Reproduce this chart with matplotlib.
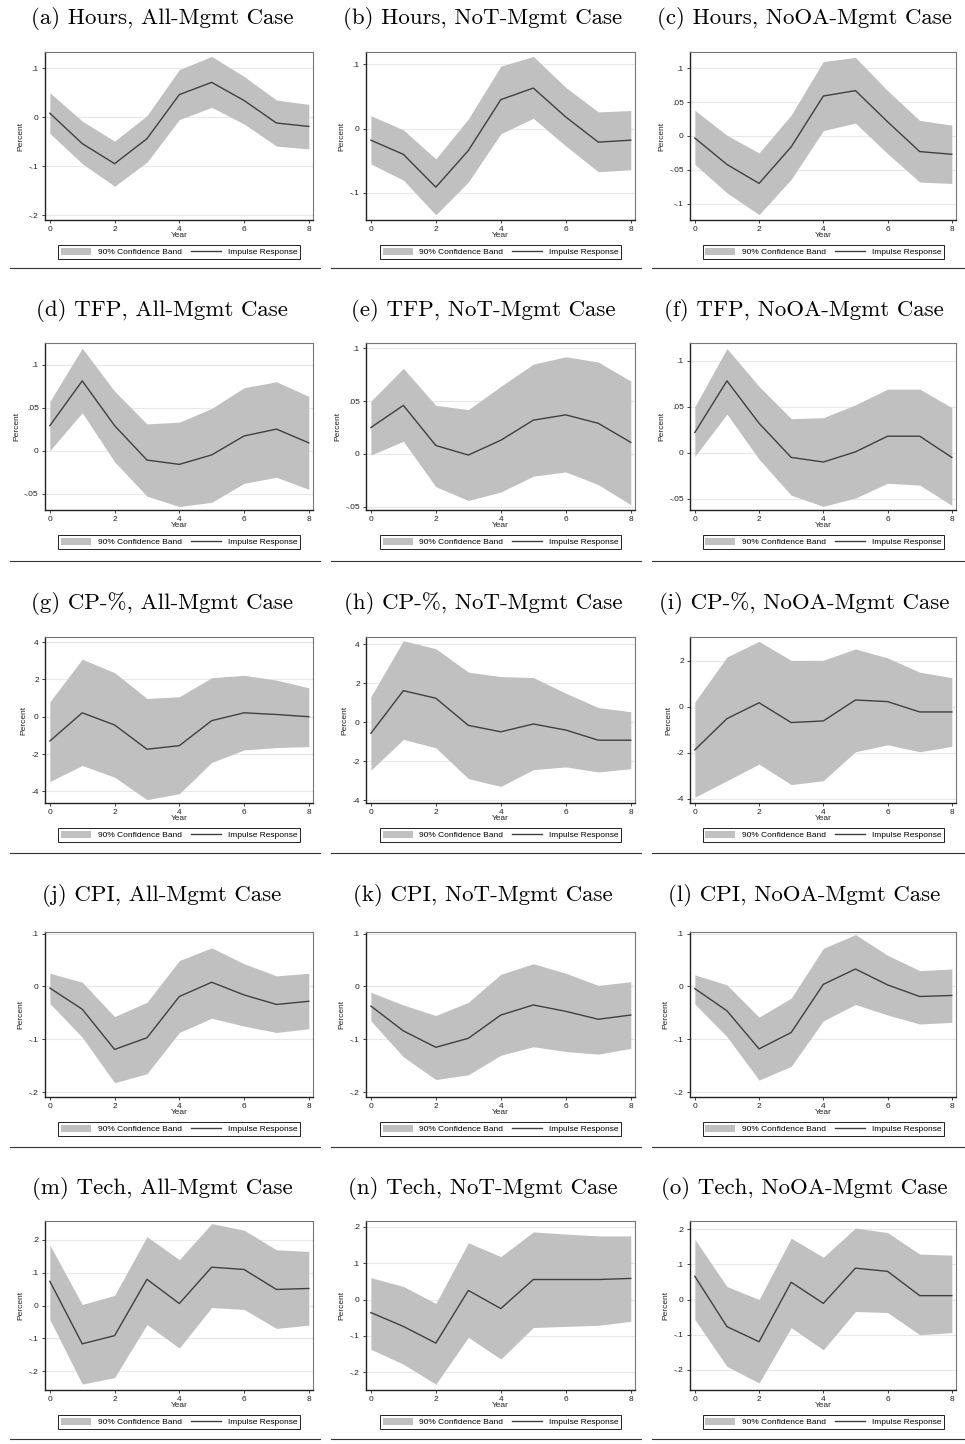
import matplotlib
matplotlib.use("Agg")
import matplotlib.pyplot as plt
from matplotlib.patches import Patch
from matplotlib.lines import Line2D

years = [0, 1, 2, 3, 4, 5, 6, 7, 8]

titles = ["(a) Hours, All-Mgmt Case", "(b) Hours, NoT-Mgmt Case", "(c) Hours, NoOA-Mgmt Case",
          "(d) TFP, All-Mgmt Case", "(e) TFP, NoT-Mgmt Case", "(f) TFP, NoOA-Mgmt Case",
          "(g) CP-%, All-Mgmt Case", "(h) CP-%, NoT-Mgmt Case", "(i) CP-%, NoOA-Mgmt Case",
          "(j) CPI, All-Mgmt Case", "(k) CPI, NoT-Mgmt Case", "(l) CPI, NoOA-Mgmt Case",
          "(m) Tech, All-Mgmt Case", "(n) Tech, NoT-Mgmt Case", "(o) Tech, NoOA-Mgmt Case"]

# Hours
a_irf = [0.008, -0.054, -0.095, -0.044, 0.046, 0.071, 0.034, -0.012, -0.019]
a_hi = [0.050, -0.008, -0.049, 0.003, 0.097, 0.124, 0.083, 0.035, 0.026]
a_lo = [-0.033, -0.095, -0.141, -0.092, -0.005, 0.020, -0.014, -0.059, -0.065]
b_irf = [-0.018, -0.040, -0.091, -0.034, 0.045, 0.063, 0.018, -0.021, -0.018]
b_hi = [0.020, -0.002, -0.047, 0.015, 0.097, 0.112, 0.064, 0.026, 0.028]
b_lo = [-0.055, -0.080, -0.134, -0.083, -0.008, 0.016, -0.027, -0.067, -0.064]
c_irf = [-0.003, -0.042, -0.070, -0.016, 0.059, 0.067, 0.021, -0.023, -0.027]
c_hi = [0.038, 0.001, -0.025, 0.031, 0.110, 0.116, 0.067, 0.023, 0.016]
c_lo = [-0.042, -0.084, -0.116, -0.064, 0.008, 0.019, -0.026, -0.068, -0.070]
# TFP
d_irf = [0.029, 0.081, 0.029, -0.011, -0.016, -0.005, 0.017, 0.025, 0.009]
d_hi = [0.057, 0.119, 0.069, 0.031, 0.033, 0.049, 0.073, 0.080, 0.063]
d_lo = [0.000, 0.044, -0.013, -0.053, -0.065, -0.060, -0.038, -0.031, -0.045]
e_irf = [0.025, 0.046, 0.008, -0.001, 0.013, 0.032, 0.037, 0.029, 0.011]
e_hi = [0.050, 0.081, 0.046, 0.042, 0.064, 0.085, 0.092, 0.087, 0.069]
e_lo = [-0.001, 0.012, -0.031, -0.044, -0.036, -0.021, -0.017, -0.029, -0.048]
f_irf = [0.022, 0.078, 0.032, -0.005, -0.010, 0.001, 0.018, 0.018, -0.005]
f_hi = [0.050, 0.113, 0.072, 0.037, 0.038, 0.052, 0.069, 0.069, 0.049]
f_lo = [-0.004, 0.042, -0.007, -0.046, -0.058, -0.049, -0.033, -0.035, -0.057]
# CP-%
g_irf = [-1.30, 0.21, -0.44, -1.74, -1.55, -0.21, 0.21, 0.12, 0.00]
g_hi = [0.80, 3.08, 2.36, 0.98, 1.07, 2.09, 2.22, 1.96, 1.55]
g_lo = [-3.47, -2.61, -3.24, -4.44, -4.12, -2.45, -1.78, -1.65, -1.60]
h_irf = [-0.58, 1.61, 1.22, -0.17, -0.50, -0.10, -0.41, -0.93, -0.93]
h_hi = [1.30, 4.17, 3.76, 2.56, 2.33, 2.28, 1.48, 0.74, 0.53]
h_lo = [-2.47, -0.89, -1.32, -2.90, -3.30, -2.44, -2.30, -2.56, -2.39]
i_irf = [-1.88, -0.52, 0.17, -0.69, -0.62, 0.29, 0.22, -0.23, -0.23]
i_hi = [0.20, 2.16, 2.84, 2.01, 2.02, 2.51, 2.12, 1.50, 1.26]
i_lo = [-3.94, -3.22, -2.50, -3.39, -3.22, -1.96, -1.66, -1.96, -1.73]
# CPI
j_irf = [-0.003, -0.043, -0.119, -0.097, -0.019, 0.008, -0.016, -0.034, -0.028]
j_hi = [0.025, 0.008, -0.057, -0.030, 0.049, 0.073, 0.043, 0.020, 0.025]
j_lo = [-0.032, -0.096, -0.182, -0.165, -0.087, -0.060, -0.075, -0.087, -0.080]
k_irf = [-0.037, -0.084, -0.115, -0.098, -0.054, -0.035, -0.047, -0.062, -0.054]
k_hi = [-0.011, -0.035, -0.055, -0.030, 0.023, 0.043, 0.025, 0.002, 0.009]
k_lo = [-0.065, -0.133, -0.176, -0.167, -0.130, -0.114, -0.123, -0.128, -0.117]
l_irf = [-0.004, -0.046, -0.118, -0.087, 0.004, 0.033, 0.003, -0.019, -0.017]
l_hi = [0.022, 0.003, -0.058, -0.022, 0.072, 0.098, 0.059, 0.030, 0.033]
l_lo = [-0.033, -0.095, -0.177, -0.151, -0.065, -0.034, -0.054, -0.071, -0.068]
# Tech
m_irf = [0.074, -0.117, -0.092, 0.080, 0.006, 0.117, 0.110, 0.049, 0.052]
m_hi = [0.185, 0.003, 0.031, 0.210, 0.140, 0.250, 0.230, 0.170, 0.165]
m_lo = [-0.043, -0.240, -0.220, -0.058, -0.130, -0.006, -0.012, -0.070, -0.060]
n_irf = [-0.036, -0.074, -0.120, 0.025, -0.025, 0.055, 0.055, 0.055, 0.058]
n_hi = [0.060, 0.036, -0.011, 0.156, 0.118, 0.186, 0.180, 0.175, 0.175]
n_lo = [-0.137, -0.178, -0.233, -0.104, -0.164, -0.077, -0.074, -0.071, -0.060]
o_irf = [0.066, -0.077, -0.120, 0.049, -0.011, 0.089, 0.080, 0.011, 0.011]
o_hi = [0.171, 0.037, 0.000, 0.174, 0.120, 0.203, 0.190, 0.129, 0.126]
o_lo = [-0.057, -0.190, -0.237, -0.080, -0.143, -0.034, -0.037, -0.100, -0.094]

yticks = [[-0.2, -0.1, 0, 0.1], [-0.1, 0, 0.1], [-0.1, -0.05, 0, 0.05, 0.1],
          [-0.05, 0, 0.05, 0.1], [-0.05, 0, 0.05, 0.1], [-0.05, 0, 0.05, 0.1],
          [-4, -2, 0, 2, 4], [-4, -2, 0, 2, 4], [-4, -2, 0, 2],
          [-0.2, -0.1, 0, 0.1], [-0.2, -0.1, 0, 0.1], [-0.2, -0.1, 0, 0.1],
          [-0.2, -0.1, 0, 0.1, 0.2], [-0.2, -0.1, 0, 0.1, 0.2], [-0.2, -0.1, 0, 0.1, 0.2]]

panels = [(a_irf, a_lo, a_hi), (b_irf, b_lo, b_hi), (c_irf, c_lo, c_hi),
          (d_irf, d_lo, d_hi), (e_irf, e_lo, e_hi), (f_irf, f_lo, f_hi),
          (g_irf, g_lo, g_hi), (h_irf, h_lo, h_hi), (i_irf, i_lo, i_hi),
          (j_irf, j_lo, j_hi), (k_irf, k_lo, k_hi), (l_irf, l_lo, l_hi),
          (m_irf, m_lo, m_hi), (n_irf, n_lo, n_hi), (o_irf, o_lo, o_hi)]

ylims = [(-0.21, 0.133), (-0.142, 0.119), (-0.124, 0.124),
         (-0.069, 0.125), (-0.053, 0.105), (-0.062, 0.119),
         (-4.62, 4.27), (-4.15, 4.36), (-4.19, 3.03),
         (-0.209, 0.103), (-0.209, 0.103), (-0.209, 0.103),
         (-0.258, 0.258), (-0.249, 0.216), (-0.257, 0.223)]

W, H = 965, 1444
fig = plt.figure(figsize=(W / 100, H / 100), dpi=100)

rows = [(18, 52, 220, 268), (311, 343, 510, 561), (603, 637, 803, 853),
        (896, 932, 1097, 1147), (1188, 1221, 1390, 1439)]
cols = [(45, 313, 162, 10, 320), (366, 635, 483, 331, 641), (690, 956, 804, 652, 965)]

BAND = "#c0c0c0"
LINE = "#404040"
SANS = ["Liberation Sans", "DejaVu Sans"]
FS = 6.0


def fmt(v):
    if v == 0:
        return "0"
    s = ("%g" % v)
    s = s.replace("0.", ".")
    return s


for idx, (irf, lo, hi) in enumerate(panels):
    r, c = divmod(idx, 3)
    ty, top, bot, sep = rows[r]
    left, right, tx, sx0, sx1 = cols[c]
    ax = fig.add_axes([left / W, 1 - bot / H, (right - left) / W, (bot - top) / H])
    ax.fill_between(years, lo, hi, color=BAND, linewidth=0, zorder=2)
    ax.plot(years, irf, color=LINE, lw=1.0, zorder=3)
    ax.set_xlim(-0.15, 8.13)
    ax.set_ylim(*ylims[idx])
    ax.set_xticks([0, 2, 4, 6, 8])
    ax.set_yticks(yticks[idx])
    ax.set_yticklabels([fmt(v) for v in yticks[idx]])
    ax.grid(axis="y", color="#e8e8e8", lw=0.8, zorder=0)
    ax.set_axisbelow(True)
    for sp in ["top", "right"]:
        ax.spines[sp].set_color("#777777")
        ax.spines[sp].set_linewidth(0.8)
    for sp in ["left", "bottom"]:
        ax.spines[sp].set_color("#222222")
        ax.spines[sp].set_linewidth(1.0)
    ax.tick_params(axis="both", labelsize=FS, length=2.5, width=0.6, pad=2,
                   colors="#222222", labelcolor="#222222")
    for lab in ax.get_xticklabels() + ax.get_yticklabels():
        lab.set_family(SANS)
    ax.set_xlabel("Year", fontsize=FS, family=SANS, labelpad=-1.2, color="#222222")
    ax.set_ylabel("Percent", fontsize=FS, family=SANS, labelpad=3, color="#222222")
    handles = [Patch(facecolor=BAND, edgecolor="none"), Line2D([0], [0], color=LINE, lw=1.0)]
    leg = ax.legend(handles, ["90% Confidence Band", "Impulse Response"], loc="center",
                    bbox_to_anchor=(0.5, -32 / (bot - top)), ncol=2,
                    frameon=True, fancybox=False, edgecolor="#222222", framealpha=1,
                    handlelength=3.6, handleheight=1.0, handletextpad=0.8,
                    columnspacing=1.1, borderpad=0.3, borderaxespad=0,
                    prop={"family": SANS, "size": FS})
    leg.get_frame().set_linewidth(0.7)
    fig.text(tx / W, 1 - ty / H, titles[idx], ha="center", va="center",
             fontsize=16.5, family=["cmr10", "DejaVu Serif"])
    fig.add_artist(Line2D([sx0 / W, sx1 / W], [1 - sep / H, 1 - sep / H],
                          color="#333333", lw=0.8))

fig.savefig("out.png", dpi=100)
